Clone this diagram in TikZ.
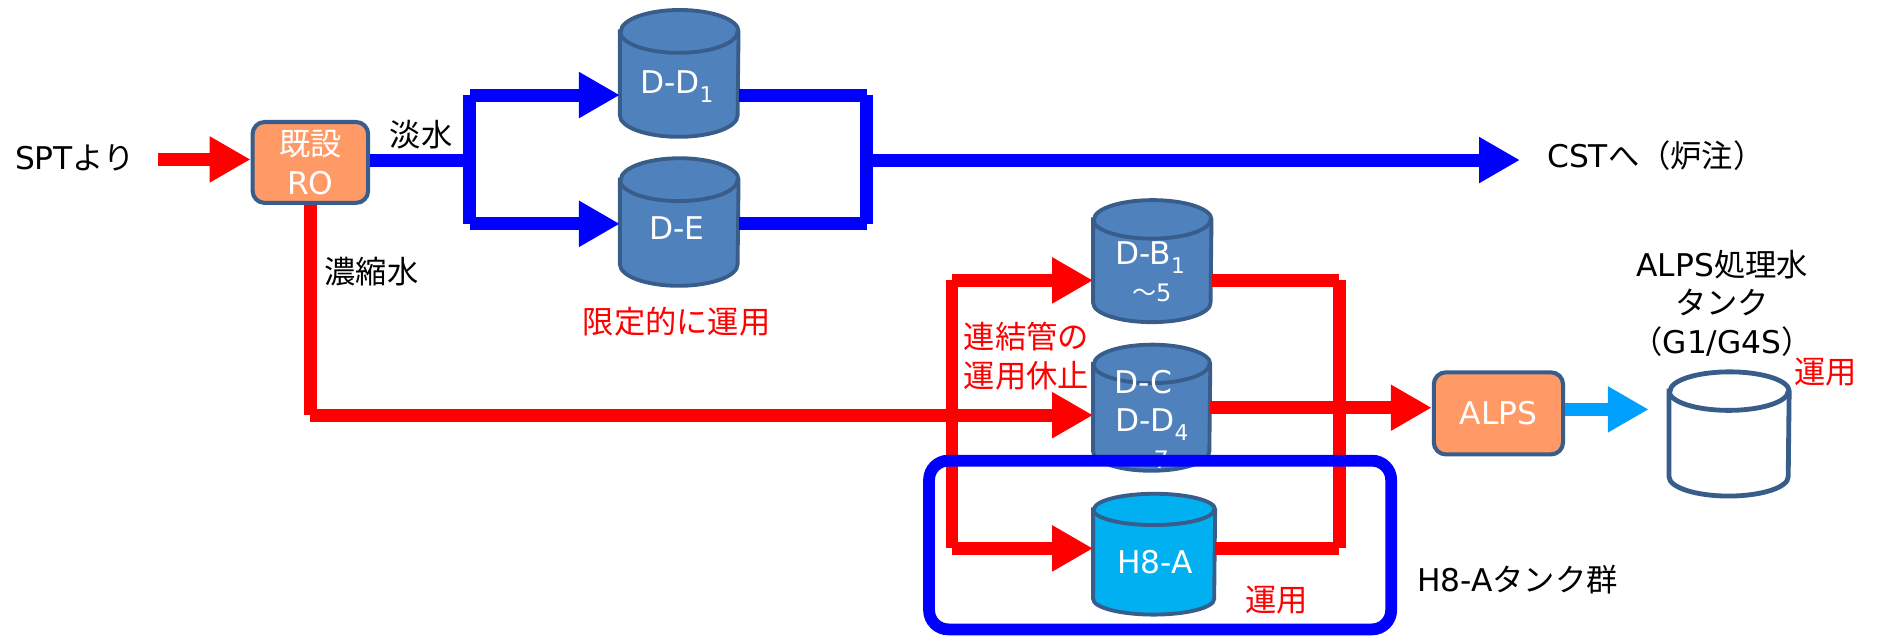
\documentclass[tikz,border=0pt]{standalone}
\usepackage{fontspec}
\setmainfont{Noto Sans CJK JP}
\newfontfamily\lat{DejaVu Sans}
\usetikzlibrary{arrows.meta}
\definecolor{tankfill}{RGB}{79,129,189}
\definecolor{tankline}{RGB}{56,93,138}
\definecolor{hfill}{RGB}{0,176,240}
\definecolor{boxfill}{RGB}{255,153,102}
\definecolor{ltblue}{RGB}{0,160,255}
\definecolor{pred}{RGB}{255,0,0}
\definecolor{pblue}{RGB}{0,0,255}
% #1 node name, #2 fill, #3 x radius, #4 y radius, #5 line width
\newcommand\tankbody[5]{%
  \draw[draw=tankline, line width=#5, fill=#2]
    ([yshift=-#4]#1.north west) -- ([yshift=#4]#1.south west)
    arc[start angle=180, end angle=360, x radius=#3, y radius=#4]
    -- ([yshift=-#4]#1.north east)
    arc[start angle=0, end angle=180, x radius=#3, y radius=#4] -- cycle;
  \draw[draw=tankline, line width=#5] ([yshift=-#4]#1.north west)
    arc[start angle=180, end angle=360, x radius=#3, y radius=#4];
}
\newcommand\sub[1]{\raisebox{-0.28em}{\fontsize{9pt}{10pt}\selectfont #1}}
\begin{document}
\begin{tikzpicture}[x=0.5pt,y=-0.5pt,
  every node/.style={font=\fontsize{13pt}{16.5pt}\selectfont, inner sep=0pt},
  pipeR/.style={draw=pred, line width=5.3pt},
  pipeB/.style={draw=pblue, line width=5.4pt},
  tipT/.style={-{Triangle[length=17pt,width=18pt]}},
  arrR/.style={pipeR, tipT},
  arrB/.style={pipeB, tipT},
  arrL/.style={draw=ltblue, line width=5.4pt, tipT},
  tankbox/.style={rectangle, inner sep=0pt},
  boxnode/.style={rectangle, draw=tankline, fill=boxfill, line width=1.7pt, rounded corners=5pt, text=white, align=center},
  wlbl/.style={text=white, anchor=base},
  small/.style={font=\fontsize{10pt}{12pt}\selectfont},
  rlbl/.style={text=pred, align=center},
  lbl/.style={text=black, align=center}]
\useasboundingbox (0,0) rectangle (1568,528);

% ---- tanks ----
\node[tankbox, minimum width=48.9pt, minimum height=52.3pt] (dd1) at (564.4,61) {};
\node[tankbox, minimum width=48.9pt, minimum height=52.6pt] (de) at (564.4,184.5) {};
\node[tankbox, minimum width=48.8pt, minimum height=50.3pt] (db) at (957.5,217) {};
\node[tankbox, minimum width=48.3pt, minimum height=52pt] (dc) at (957,338.8) {};
\node[tankbox, minimum width=50.3pt, minimum height=49.8pt] (h8) at (959,460.5) {};
\node[tankbox, minimum width=49.5pt, minimum height=51.2pt] (at) at (1436.8,360.6) {};
\tankbody{dd1}{tankfill}{24.45pt}{8.9pt}{1.6pt}
\tankbody{de}{tankfill}{24.45pt}{8.9pt}{1.6pt}
\tankbody{db}{tankfill}{24.4pt}{8pt}{1.6pt}
\tankbody{dc}{tankfill}{24.15pt}{8pt}{1.6pt}
\tankbody{h8}{hfill}{25.15pt}{6.5pt}{1.6pt}
\tankbody{at}{white}{24.75pt}{8pt}{2pt}

\node[wlbl] (dd1t) at (562.3,77.6) {\lat D-D\sub{1}};
\node[wlbl] (det) at (562.3,199.4) {\lat D-E};
\node[wlbl] (dbt) at (955.6,220.2) {\lat D-B\sub{1}};
\node[wlbl, small] (dbt2) at (957,250.7) {～{\lat 5}};
\node[wlbl] (dct) at (950,326.9) {\lat D-C};
\node[wlbl] (dct2) at (957,358.7) {\lat D-D\sub{4}};
\node[wlbl, small] (dct3) at (955,389) {～{\lat 7}};
\node[wlbl] (h8t) at (959.8,476.4) {\lat H8-A};

% ---- boxes ----
\node[boxnode, minimum width=48pt, minimum height=33.6pt] (ro) at (257.9,135) {既設\\{\lat RO}};
\node[boxnode, minimum width=53.7pt, minimum height=34.1pt] (alps) at (1245.1,343.5) {\lat ALPS};

% ---- labels ----
\node[lbl] (spt) at (62.3,131) {{\lat SPT}より};
\node[lbl] (tansui) at (350,112) {淡水};
\node[lbl] (noshuku) at (308.6,225.8) {濃縮水};
\node[lbl, anchor=west] (cst) at (1285.3,129) {{\lat CST}へ（炉注）};
\node[rlbl] (gentei) at (562.3,267.3) {限定的に運用};
\node[rlbl] (renketsu) at (853,296) {連結管の\\運用休止};
\node[lbl, font=\fontsize{13pt}{16pt}\selectfont] (alpsl) at (1431,252) {{\lat ALPS}処理水\\タンク\\（{\lat G1/G4S}）};
\node[rlbl] (unyo1) at (1517,309) {運用};
\node[rlbl] (unyo2) at (1061,499) {運用};
\node[lbl, anchor=west] (h8g) at (1177.2,482) {{\lat H8-A}タンク群};

% ---- junction coordinates ----
\coordinate (s0) at (131.6,132.5);
\coordinate (jB) at (390.5,133);
\coordinate (jBt) at (390.5,79);
\coordinate (jBb) at (390.5,186);
\coordinate (jC) at (720.2,133);
\coordinate (jCt) at (720.2,79);
\coordinate (jCb) at (720.2,186);
\coordinate (cstend) at (1263,133);
\coordinate (rK) at (257.9,345);
\coordinate (rL1) at (791,233);
\coordinate (rL2) at (791,455.7);
\coordinate (rR1) at (1113,233);
\coordinate (rR2) at (1113,455.7);
\coordinate (la) at (1370,340.2);

% ---- blue (fresh water) ----
\draw[arrR] (s0) -- (s0 -| ro.west);
\draw[pipeB] (ro.east |- jB) -- (jB);
\draw[pipeB] (jBt) -- (jBb);
\draw[arrB] (jBt) -- (dd1.west |- jBt);
\draw[arrB] (jBb) -- (de.west |- jBb);
\draw[pipeB] (dd1.east |- jCt) -- (jCt);
\draw[pipeB] (de.east |- jCb) -- (jCb);
\draw[pipeB] (jCt) -- (jCb);
\draw[arrB] (jC) -- (cstend);

% ---- red (concentrate) ----
\draw[pipeR] (ro.south) -- (rK);
\draw[arrR] (rK) -- (dc.west |- rK);
\draw[pipeR] (rL1) -- (rL2);
\draw[arrR] (rL1) -- (db.west |- rL1);
\draw[arrR] (rL2) -- (h8.west |- rL2);
\draw[pipeR] (db.east |- rR1) -- (rR1);
\draw[pipeR] (h8.east |- rR2) -- (rR2);
\draw[pipeR] (rR1) -- (rR2);
\draw[arrR] (dc.east) -- (alps.west |- dc.east);
\draw[arrL] (alps.east |- la) -- (la);

% ---- H8-A group frame ----
\node[rectangle, draw=pblue, line width=4.9pt, rounded corners=8pt, minimum width=192pt, minimum height=70.1pt] (grp) at (964,452.9) {};
\end{tikzpicture}
\end{document}
